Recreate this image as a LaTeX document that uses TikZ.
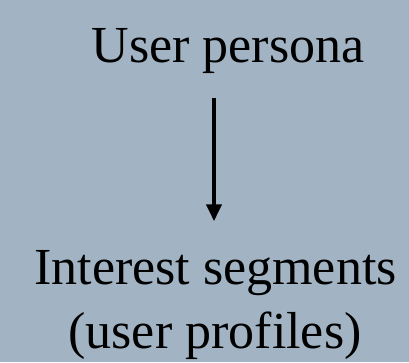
\documentclass[tikz,border=0pt]{standalone}
\usepackage{fontspec}
\setmainfont{Liberation Serif}
\usetikzlibrary{calc,arrows.meta}
\definecolor{slide}{HTML}{A2B4C3}

\begin{document}
\begin{tikzpicture}[x=1pt,y=-1pt]
\tikzset{label/.style={inner sep=0pt,anchor=base,font=\fontsize{52}{60}\selectfont}}
\fill[slide] (0,0) rectangle (409,362);
\useasboundingbox (0,0) rectangle (409,362);
\node[label] (persona) at (228,62) {User persona};
\node[label] (segments) at (215.5,284) {Interest segments};
\node[label] (profiles) at (215,348) {(user profiles)};
\coordinate (from) at ($(persona.south -| 214,0)+(0,25)$);
\coordinate (to) at ($(segments.north -| 214,0)+(0,-28.5)$);
\draw[line width=4pt,-{Triangle[length=17pt,width=15pt]}] (from) -- (to);
\end{tikzpicture}
\end{document}
